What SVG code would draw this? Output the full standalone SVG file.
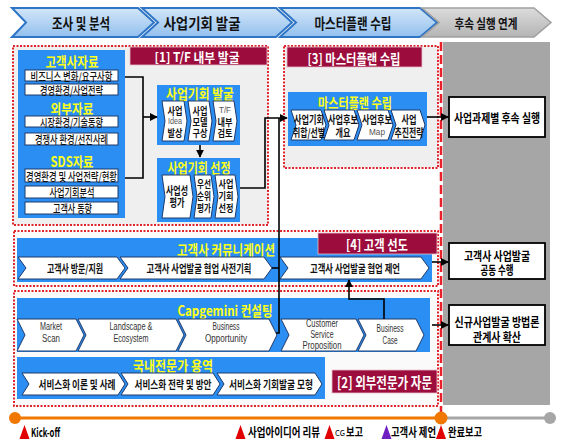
<svg xmlns="http://www.w3.org/2000/svg" width="564" height="442" viewBox="0 0 564 442">
<defs>
<marker id="ah" viewBox="0 0 10 10" refX="9" refY="5" markerWidth="5" markerHeight="5" orient="auto"><path d="M0,0 L10,5 L0,10 Z" fill="#000"/></marker>
<linearGradient id="hg" x1="0" y1="0" x2="0" y2="1"><stop offset="0" stop-color="#d3e6f8"/><stop offset="1" stop-color="#92c0ee"/></linearGradient>
<linearGradient id="gg" x1="0" y1="0" x2="0" y2="1"><stop offset="0" stop-color="#dcdcdc"/><stop offset="1" stop-color="#b4b4b4"/></linearGradient>
</defs>
<style>
text{font-family:"Noto Sans CJK KR","Noto Sans",sans-serif;dominant-baseline:central;text-anchor:middle}
.h{font-size:15px;font-weight:bold;fill:#111}
.y{font-size:14px;font-weight:bold;fill:#ffff1a}
.w{font-size:14px;font-weight:bold;fill:#fff}
.b{font-size:11px;font-weight:bold;fill:#111}
.s{font-size:10px;font-weight:bold;fill:#111}
.n{font-size:11px;font-weight:500;fill:#111}
.e{font-family:"Liberation Sans",Arial,sans-serif;font-size:10px;fill:#333}
.g{font-family:"Liberation Sans",Arial,sans-serif;font-size:9px;fill:#555}
.r{font-size:12px;font-weight:bold;fill:#000}
.m{font-size:12px;font-weight:bold;fill:#000;text-anchor:start}
.dot{fill:#efefef;stroke:#e0242c;stroke-width:2;stroke-dasharray:2 1.5}
.dotw{fill:#fafafa;stroke:#e0242c;stroke-width:2;stroke-dasharray:2 1.5}
.pan{fill:#2b8ef2}
.wbx{fill:#fff;stroke:#1f3a6b;stroke-width:1}
.ban{fill:#9c0c3c;stroke:#e8c0cc;stroke-width:0.8}
.cn{fill:none;stroke:#000;stroke-width:1.6}
.hc{fill:url(#hg);stroke:#2e75c6;stroke-width:2}
.rb{fill:#fff;stroke:#000;stroke-width:1.8}
</style>

<g id="header">
<g id="hdr-1"><path class="hc" d="M12,8 L138,8 L154,22.5 L138,37 L12,37 L26,22.5 Z"/><text class="h" x="81" y="22.5" textLength="58" lengthAdjust="spacingAndGlyphs">조사 및 분석</text></g>
<g id="hdr-2"><path class="hc" d="M142,8 L276,8 L292,22.5 L276,37 L142,37 L158,22.5 Z"/><text class="h" x="202" y="22.5" textLength="77" lengthAdjust="spacingAndGlyphs">사업기회 발굴</text></g>
<g id="hdr-3"><path class="hc" d="M280,8 L420,8 L437,22.5 L420,37 L280,37 L296,22.5 Z"/><text class="h" x="353" y="22.5" textLength="77" lengthAdjust="spacingAndGlyphs">마스터플랜 수립</text></g>
<g id="hdr-4"><path d="M422,8 L534,8 L551,22.5 L534,37 L422,37 L439,22.5 Z" fill="url(#gg)" stroke="#a0a0a0" stroke-width="1.5"/><text class="h" x="486" y="22.5" style="font-size:13px" textLength="63" lengthAdjust="spacingAndGlyphs">후속 실행 연계</text></g>
</g>

<g id="right-column">
<rect x="443" y="42" width="107" height="363" fill="#a6a6a6"/>
<line x1="441" y1="42" x2="441" y2="412" stroke="#e8202a" stroke-width="2.5" stroke-dasharray="9 4"/>
</g>

<g id="sections">
<rect id="sec-1" class="dot" x="13" y="46" width="255" height="179"/>
<rect id="sec-3" class="dot" x="284" y="46" width="154" height="122"/>
<rect id="sec-4" class="dotw" x="14" y="231" width="424" height="55"/>
<rect id="sec-2" class="dotw" x="14" y="291" width="424" height="115"/>
</g>

<g id="banner-1"><rect class="ban" x="130" y="47" width="137" height="18"/><text class="w" x="197" y="56" style="font-size:13px" textLength="85" lengthAdjust="spacingAndGlyphs">[1] T/F 내부 발굴</text></g>
<g id="banner-3"><rect class="ban" x="287" y="47" width="135" height="20"/><text class="w" x="354" y="57.5" textLength="93" lengthAdjust="spacingAndGlyphs">[3] 마스터플랜 수립</text></g>

<g id="source-data">
<rect class="pan" x="18" y="50" width="107" height="168"/>
<text class="y" x="72" y="61" textLength="53" lengthAdjust="spacingAndGlyphs">고객사자료</text>
<rect class="wbx" x="25" y="70" width="93" height="11"/><text class="n" x="71.5" y="75.5" textLength="82" lengthAdjust="spacingAndGlyphs">비즈니스 변화/요구사항</text>
<rect class="wbx" x="25" y="84" width="93" height="11"/><text class="n" x="71.5" y="89.5" textLength="63" lengthAdjust="spacingAndGlyphs">경영환경/사업전략</text>
<text class="y" x="72" y="108" textLength="43" lengthAdjust="spacingAndGlyphs">외부자료</text>
<rect class="wbx" x="25" y="116" width="93" height="11"/><text class="n" x="71.5" y="121.5" textLength="63" lengthAdjust="spacingAndGlyphs">시장환경/기술동향</text>
<rect class="wbx" x="25" y="133" width="93" height="12"/><text class="n" x="71.5" y="139" textLength="73" lengthAdjust="spacingAndGlyphs">경쟁사 환경/선진사례</text>
<text class="y" x="72" y="161" textLength="43" lengthAdjust="spacingAndGlyphs">SDS자료</text>
<rect class="wbx" x="25" y="169" width="93" height="13"/><text class="n" x="71.5" y="175.5" textLength="91" lengthAdjust="spacingAndGlyphs">경영환경 및 사업전략/현황</text>
<rect class="wbx" x="25" y="186" width="93" height="12"/><text class="n" x="72" y="192" textLength="45" lengthAdjust="spacingAndGlyphs">사업기회분석</text>
<rect class="wbx" x="25" y="202" width="93" height="12"/><text class="n" x="72.5" y="208" textLength="39" lengthAdjust="spacingAndGlyphs">고객사 동향</text>
</g>

<g id="opportunity-discovery">
<rect class="pan" x="157" y="85" width="83" height="60"/>
<text class="y" x="200" y="93" textLength="68" lengthAdjust="spacingAndGlyphs">사업기회 발굴</text>
<path class="wbx" d="M162,101 L184,101 L187,121 L184,141 L162,141 L165,121 Z"/>
<path class="wbx" d="M188,101 L209,101 L212,121 L209,141 L188,141 L191,121 Z"/>
<path class="wbx" d="M213,101 L234,101 L237,121 L234,141 L213,141 L216,121 Z"/>
<text class="s" x="175" y="110" textLength="15" lengthAdjust="spacingAndGlyphs">사업</text>
<text class="g" x="175" y="121" textLength="14" lengthAdjust="spacingAndGlyphs">Idea</text>
<text class="s" x="175" y="132" textLength="15" lengthAdjust="spacingAndGlyphs">발상</text>
<text class="s" x="200" y="110" textLength="15" lengthAdjust="spacingAndGlyphs">사업</text>
<text class="s" x="200" y="121" textLength="15" lengthAdjust="spacingAndGlyphs">모델</text>
<text class="s" x="200" y="132" textLength="15" lengthAdjust="spacingAndGlyphs">구상</text>
<text class="g" x="225" y="110" textLength="12" lengthAdjust="spacingAndGlyphs">T/F</text>
<text class="s" x="225" y="121" textLength="15" lengthAdjust="spacingAndGlyphs">내부</text>
<text class="s" x="225" y="132" textLength="15" lengthAdjust="spacingAndGlyphs">검토</text>
</g>

<g id="opportunity-selection">
<rect class="pan" x="157" y="158" width="83" height="64"/>
<text class="y" x="199" y="167" textLength="63" lengthAdjust="spacingAndGlyphs">사업기회 선정</text>
<path class="wbx" d="M162,175 L190,175 L193,196.5 L190,218 L162,218 L165,196.5 Z"/>
<path class="wbx" d="M194,175 L211,175 L214,196.5 L211,218 L194,218 L197,196.5 Z"/>
<path class="wbx" d="M215,175 L235,175 L238,196.5 L235,218 L215,218 L218,196.5 Z"/>
<text class="b" x="177" y="190" textLength="22" lengthAdjust="spacingAndGlyphs">사업성</text>
<text class="b" x="177" y="202" textLength="15" lengthAdjust="spacingAndGlyphs">평가</text>
<text class="s" x="204" y="183" textLength="14" lengthAdjust="spacingAndGlyphs">우선</text>
<text class="s" x="204" y="195" textLength="14" lengthAdjust="spacingAndGlyphs">순위</text>
<text class="s" x="204" y="207" textLength="14" lengthAdjust="spacingAndGlyphs">평가</text>
<text class="s" x="226" y="183" textLength="15" lengthAdjust="spacingAndGlyphs">사업</text>
<text class="s" x="226" y="195" textLength="15" lengthAdjust="spacingAndGlyphs">기회</text>
<text class="s" x="226" y="207" textLength="15" lengthAdjust="spacingAndGlyphs">선정</text>
</g>

<g id="master-plan">
<rect class="pan" x="288" y="92" width="139" height="54"/>
<text class="y" x="355" y="102" textLength="74" lengthAdjust="spacingAndGlyphs">마스터플랜 수립</text>
<path class="wbx" d="M291,110 L321,110 L326,125 L321,140 L291,140 L296,125 Z"/>
<path class="wbx" d="M324,110 L354,110 L359,125 L354,140 L324,140 L329,125 Z"/>
<path class="wbx" d="M357,110 L388,110 L393,125 L388,140 L357,140 L362,125 Z"/>
<path class="wbx" d="M391,110 L420,110 L425,125 L420,140 L391,140 L396,125 Z"/>
<text class="b" x="309" y="119" textLength="30" lengthAdjust="spacingAndGlyphs">사업기회</text>
<text class="b" x="309" y="132" textLength="32" lengthAdjust="spacingAndGlyphs">취합/선별</text>
<text class="b" x="343" y="119" textLength="30" lengthAdjust="spacingAndGlyphs">사업후보</text>
<text class="b" x="343" y="132" textLength="15" lengthAdjust="spacingAndGlyphs">개요</text>
<text class="b" x="377" y="119" textLength="30" lengthAdjust="spacingAndGlyphs">사업후보</text>
<text class="g" x="377" y="132" textLength="16" lengthAdjust="spacingAndGlyphs">Map</text>
<text class="b" x="409" y="119" textLength="15" lengthAdjust="spacingAndGlyphs">사업</text>
<text class="b" x="409" y="132" textLength="29" lengthAdjust="spacingAndGlyphs">추진전략</text>
</g>

<g id="communication">
<rect class="pan" x="17" y="238" width="415" height="44"/>
<text class="y" x="226" y="249" textLength="98" lengthAdjust="spacingAndGlyphs">고객사 커뮤니케이션</text>
<path class="wbx" d="M18,257 L117,257 L125,268 L117,279 L18,279 L26,268 Z"/>
<path class="wbx" d="M120,257 L264,257 L272,268 L264,279 L120,279 L128,268 Z"/>
<path class="wbx" d="M280,257 L421,257 L429,268 L421,279 L280,279 L288,268 Z"/>
<text class="b" x="75" y="268" textLength="56" lengthAdjust="spacingAndGlyphs">고객사 방문/지원</text>
<text class="b" x="199" y="268" textLength="105" lengthAdjust="spacingAndGlyphs">고객사 사업발굴 협업 사전기획</text>
<text class="b" x="355" y="268" textLength="90" lengthAdjust="spacingAndGlyphs">고객사 사업발굴 협업 제언</text>
</g>
<g id="banner-4"><rect class="ban" x="318" y="233" width="119" height="21"/><text class="w" x="377" y="243.5" textLength="62" lengthAdjust="spacingAndGlyphs">[4] 고객 선도</text></g>

<g id="capgemini">
<rect class="pan" x="17" y="298" width="413" height="54"/>
<text class="y" x="225" y="310" textLength="95" lengthAdjust="spacingAndGlyphs">Capgemini 컨설팅</text>
<path class="wbx" d="M17,319 L76,319 L84,335 L76,351 L17,351 L25,335 Z"/>
<path class="wbx" d="M78,319 L176,319 L184,335 L176,351 L78,351 L86,335 Z"/>
<path class="wbx" d="M178,319 L269,319 L277,335 L269,351 L178,351 L186,335 Z"/>
<path class="wbx" d="M281,319 L356,319 L364,335 L356,351 L281,351 L289,335 Z"/>
<path class="wbx" d="M358,319 L416,319 L424,335 L416,351 L358,351 L366,335 Z"/>
<text class="e" x="51" y="326" textLength="22" lengthAdjust="spacingAndGlyphs">Market</text>
<text class="e" x="51" y="338" textLength="18" lengthAdjust="spacingAndGlyphs">Scan</text>
<text class="e" x="131" y="326" textLength="43" lengthAdjust="spacingAndGlyphs">Landscape &amp;</text>
<text class="e" x="131" y="338" textLength="35" lengthAdjust="spacingAndGlyphs">Ecosystem</text>
<text class="e" x="226" y="326" textLength="27" lengthAdjust="spacingAndGlyphs">Business</text>
<text class="e" x="226" y="338" textLength="42" lengthAdjust="spacingAndGlyphs">Opportunity</text>
<text class="e" x="322" y="323" textLength="32" lengthAdjust="spacingAndGlyphs">Customer</text>
<text class="e" x="322" y="334" textLength="23" lengthAdjust="spacingAndGlyphs">Service</text>
<text class="e" x="322" y="345" textLength="39" lengthAdjust="spacingAndGlyphs">Proposition</text>
<text class="e" x="390" y="328" textLength="27" lengthAdjust="spacingAndGlyphs">Business</text>
<text class="e" x="390" y="340" textLength="15" lengthAdjust="spacingAndGlyphs">Case</text>
</g>

<g id="domestic-experts">
<rect class="pan" x="17" y="357" width="308" height="42"/>
<text class="y" x="173" y="365" textLength="80" lengthAdjust="spacingAndGlyphs">국내전문가 용역</text>
<path class="wbx" d="M22,373 L118,373 L125,384 L118,395 L22,395 L29,384 Z"/>
<path class="wbx" d="M121,373 L213,373 L220,384 L213,395 L121,395 L128,384 Z"/>
<path class="wbx" d="M217,373 L315,373 L322,384 L315,395 L217,395 L224,384 Z"/>
<text class="b" x="77" y="384" textLength="77" lengthAdjust="spacingAndGlyphs">서비스화 이론 및 사례</text>
<text class="b" x="173" y="384" textLength="77" lengthAdjust="spacingAndGlyphs">서비스화 전략 및 방안</text>
<text class="b" x="271" y="384" textLength="84" lengthAdjust="spacingAndGlyphs">서비스화 기회발굴 모형</text>
</g>
<g id="banner-2"><rect class="ban" x="332" y="370" width="105" height="23"/><text class="w" x="384.5" y="381.5" style="font-size:15px" textLength="95" lengthAdjust="spacingAndGlyphs">[2] 외부전문가 자문</text></g>

<g id="result-1"><rect class="rb" x="449" y="97" width="96" height="40"/><text class="r" x="497" y="117" textLength="86" lengthAdjust="spacingAndGlyphs">사업과제별 후속 실행</text></g>
<g id="result-2"><rect class="rb" x="449" y="243" width="96" height="36"/><text class="r" x="497" y="255" textLength="66" lengthAdjust="spacingAndGlyphs">고객사 사업발굴</text><text class="r" x="497" y="269" textLength="33" lengthAdjust="spacingAndGlyphs">공동 수행</text></g>
<g id="result-3"><rect class="rb" x="449" y="305" width="96" height="40"/><text class="r" x="497" y="321" textLength="85" lengthAdjust="spacingAndGlyphs">신규사업발굴 방법론</text><text class="r" x="497" y="336" textLength="48" lengthAdjust="spacingAndGlyphs">관계사 확산</text></g>

<g id="connectors">
<path class="cn" d="M125,77 H143 V178 H125"/>
<path class="cn" d="M143,117 H157" marker-end="url(#ah)"/>
<path class="cn" d="M200,145 V157" stroke-width="1" marker-end="url(#ah)"/>
<path class="cn" d="M240,188 H265 V118 H287" marker-end="url(#ah)"/>
<path class="cn" d="M279,118 V333 H276"/>
<path class="cn" d="M272,268 H279"/>
<path class="cn" d="M384,319 V299 H349 V280" marker-end="url(#ah)"/>
<path class="cn" d="M427,117 H448" marker-end="url(#ah)"/>
<path class="cn" d="M432,262 H448" marker-end="url(#ah)"/>
<path class="cn" d="M432,325 H448" marker-end="url(#ah)"/>
</g>

<g id="timeline">
<line x1="15" y1="418" x2="441" y2="418" stroke="#f07800" stroke-width="3"/>
<line x1="441" y1="418" x2="550" y2="418" stroke="#a6a6a6" stroke-width="3"/>
<circle cx="15" cy="418" r="6" fill="#f07800"/>
<circle cx="441" cy="418" r="6.5" fill="#f07800"/>
<circle cx="550" cy="418" r="6" fill="#a6a6a6"/>
<path d="M19.5,439 L24.5,425 L29.5,439 Z" fill="#e00000"/>
<path d="M235.5,439 L240.5,425 L245.5,439 Z" fill="#e00000"/>
<path d="M324.5,439 L329.5,425 L334.5,439 Z" fill="#e00000"/>
<path d="M381.5,439 L386.5,425 L391.5,439 Z" fill="#7020c0"/>
<path d="M436,439 L441,425 L446,439 Z" fill="#e00000"/>
<text class="m" x="31" y="431" textLength="29" lengthAdjust="spacingAndGlyphs">Kick-off</text>
<text class="m" x="248" y="431" textLength="72" lengthAdjust="spacingAndGlyphs">사업아이디어 리뷰</text>
<text class="m" x="335" y="432" style="font-size:8px;font-weight:normal" textLength="10" lengthAdjust="spacingAndGlyphs">CG</text>
<text class="m" x="346" y="431" textLength="17" lengthAdjust="spacingAndGlyphs">보고</text>
<text class="m" x="391" y="431" textLength="45" lengthAdjust="spacingAndGlyphs">고객사 제언</text>
<text class="m" x="448" y="431" textLength="34" lengthAdjust="spacingAndGlyphs">완료보고</text>
</g>
</svg>
